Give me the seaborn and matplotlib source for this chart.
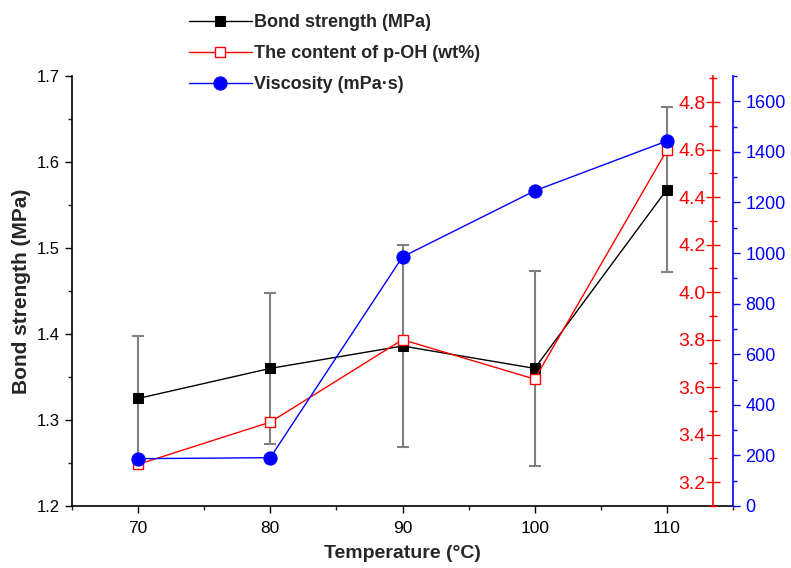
import matplotlib
matplotlib.use("Agg")
import matplotlib.pyplot as plt
from matplotlib.ticker import MultipleLocator
import seaborn as sns
import pandas as pd

# data
temperature = [70, 80, 90, 100, 110]
bond_strength = [1.325, 1.360, 1.386, 1.360, 1.568]
bond_err = [0.0725, 0.088, 0.118, 0.113, 0.096]
poh_content = [3.275, 3.453, 3.800, 3.634, 4.598]
viscosity = [187, 191, 985, 1246, 1443]

df = pd.DataFrame({"T": temperature, "bond": bond_strength, "err": bond_err,
                   "poh": poh_content, "visc": viscosity})

sns.set_style("ticks")
plt.rcParams["font.family"] = ["Liberation Sans", "DejaVu Sans"]

fig = plt.figure(figsize=(7.91, 5.68), dpi=100)
ax = fig.add_axes([0.091, 0.1092, 0.8357, 0.757])
ax_red = ax.twinx()
ax_blue = ax.twinx()

# bond strength with error bars
ax.errorbar(df["T"], df["bond"], yerr=df["err"], fmt="none", ecolor="#808080",
            elinewidth=1.5, capsize=4, capthick=1.5, zorder=1)
sns.lineplot(data=df, x="T", y="bond", ax=ax, color="black", lw=1, marker="s",
             markersize=7, markeredgecolor="black", legend=False, zorder=3)
sns.lineplot(data=df, x="T", y="poh", ax=ax_red, color="red", lw=1, marker="s",
             markersize=7, markerfacecolor="white", markeredgecolor="red",
             markeredgewidth=1, legend=False)
sns.lineplot(data=df, x="T", y="visc", ax=ax_blue, color="blue", lw=1, marker="o",
             markersize=9.5, markeredgecolor="blue", legend=False)

ax.set_xlim(65, 115)
ax.set_ylim(1.2, 1.7)
ax.yaxis.set_major_locator(MultipleLocator(0.1))
ax.yaxis.set_minor_locator(MultipleLocator(0.05))
ax.set_xticks([70, 80, 90, 100, 110])
ax.set_xticks([65, 75, 85, 95, 105, 115], minor=True)
ax.tick_params(axis="both", which="major", direction="out", length=5, width=1,
               colors="black")
ax.tick_params(axis="y", which="major", labelsize=12)
ax.tick_params(axis="x", which="major", labelsize=12.5, pad=6)
ax.tick_params(axis="both", which="minor", direction="out", length=3, width=1)
ax.set_xlabel("Temperature (°C)", fontsize=14, fontweight="bold", labelpad=6)
ax.set_ylabel("Bond strength (MPa)", fontsize=15, fontweight="bold", labelpad=4)
ax.spines["top"].set_visible(False)
ax.spines["right"].set_visible(False)
for s in ["left", "bottom"]:
    ax.spines[s].set_linewidth(1.2)
    ax.spines[s].set_color("black")

# red axis sits a little inside the right edge, labels on its left
ax_red.set_ylim(3.1, 4.91)
ax_red.set_yticks([3.2, 3.4, 3.6, 3.8, 4.0, 4.2, 4.4, 4.6, 4.8])
ax_red.yaxis.set_minor_locator(MultipleLocator(0.1))
ax_red.spines["right"].set_position(("axes", 0.97))
ax_red.spines["right"].set_color("red")
ax_red.spines["right"].set_linewidth(1.2)
for s in ["top", "left", "bottom"]:
    ax_red.spines[s].set_visible(False)
ax_red.tick_params(axis="y", which="major", direction="inout", length=10, width=1,
                   colors="red", labelsize=14, labelcolor="red", pad=-10.5)
ax_red.tick_params(axis="y", which="minor", direction="inout", length=6, width=1,
                   colors="red")
ax_red.set_ylabel("")
for t in ax_red.yaxis.get_major_ticks():
    t.label2.set_horizontalalignment("right")

ax_blue.set_ylim(0, 1700)
ax_blue.yaxis.set_major_locator(MultipleLocator(200))
ax_blue.yaxis.set_minor_locator(MultipleLocator(100))
ax_blue.spines["right"].set_color("blue")
ax_blue.spines["right"].set_linewidth(1.2)
for s in ["top", "left", "bottom"]:
    ax_blue.spines[s].set_visible(False)
ax_blue.tick_params(axis="y", which="major", direction="out", length=5, width=1,
                    colors="blue", labelsize=13, labelcolor="blue", pad=4)
ax_blue.tick_params(axis="y", which="minor", direction="out", length=3, width=1,
                    colors="blue")
ax_blue.set_ylabel("")

handles = ax.get_lines()[-1:] + ax_red.get_lines()[-1:] + ax_blue.get_lines()[-1:]
labels = ["Bond strength (MPa)", "The content of p-OH (wt%)", "Viscosity (mPa·s)"]
fig.legend(handles, labels, loc="upper left", bbox_to_anchor=(0.218, 1.004),
           frameon=False, prop={"weight": "bold", "size": 13}, handlelength=3.5,
           handletextpad=0.1, labelspacing=0.78)

fig.savefig("out.png", dpi=100)
